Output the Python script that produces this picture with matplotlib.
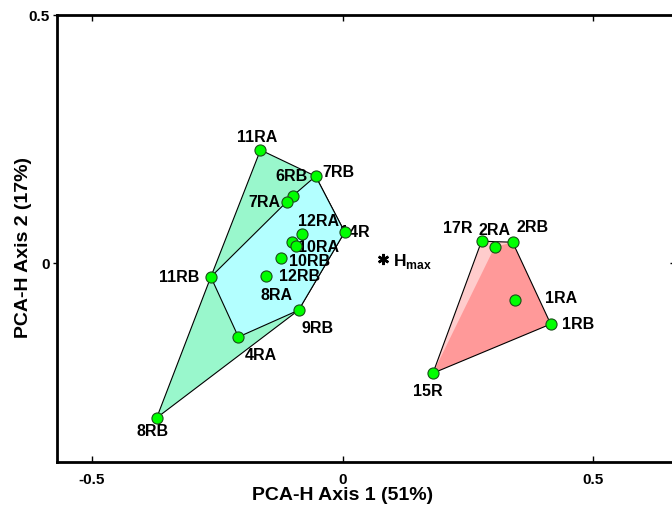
import matplotlib
matplotlib.use("Agg")
import matplotlib.pyplot as plt
from matplotlib.patches import Polygon

plt.rcParams['font.family'] = ['Liberation Sans', 'DejaVu Sans']
plt.rcParams['font.weight'] = 'bold'
plt.rcParams['mathtext.fontset'] = 'custom'
plt.rcParams['mathtext.rm'] = 'Liberation Sans'
plt.rcParams['mathtext.bf'] = 'Liberation Sans:bold'

# left cluster (R*A / R*B samples)
left_names = ["11RA", "7RB", "6RB", "7RA", "14R", "12RA", "8RA", "10RA",
              "10RB", "12RB", "11RB", "9RB", "4RA", "8RB"]
left_x = [-0.164, -0.054, -0.100, -0.112, 0.004, -0.082, -0.102, -0.094,
          -0.124, -0.152, -0.263, -0.088, -0.208, -0.371]
left_y = [0.228, 0.175, 0.135, 0.123, 0.0625, 0.058, 0.042, 0.034,
          0.010, -0.026, -0.028, -0.095, -0.149, -0.312]
# points left out of the inner (cyan) hull
left_outer_only = ["11RA", "8RB"]

# right cluster
right_names = ["17R", "2RA", "2RB", "1RA", "1RB", "15R"]
right_x = [0.277, 0.303, 0.339, 0.343, 0.415, 0.180]
right_y = [0.044, 0.032, 0.042, -0.075, -0.123, -0.222]
right_outer_only = ["17R"]

hmax_x, hmax_y = 0.080, 0.008

# label placement: (dx, dy) in pixels, ha
label_pos = {
    "11RA": (-3, 12, "center"), "7RB": (7, 4, "left"), "6RB": (-1, 20, "center"),
    "7RA": (-6, 0, "right"), "14R": (-5, 0, "left"), "12RA": (-4, 13, "left"),
    "8RA": (-15, -53, "center"), "10RA": (2, -1, "left"), "10RB": (8, -3, "left"),
    "12RB": (13, -1, "left"), "11RB": (-11, -1, "right"), "9RB": (3, -18, "left"),
    "4RA": (6, -19, "left"), "8RB": (-4, -14, "center"),
    "17R": (-9, 13, "right"), "2RA": (0, 17, "center"), "2RB": (4, 15, "left"),
    "1RA": (30, 2, "left"), "1RB": (11, 0, "left"), "15R": (-5, -18, "center"),
}


def hull(pts):
    pts = sorted(set(pts))
    if len(pts) < 3:
        return pts

    def cross(o, a, b):
        return (a[0] - o[0]) * (b[1] - o[1]) - (a[1] - o[1]) * (b[0] - o[0])
    lower, upper = [], []
    for p in pts:
        while len(lower) >= 2 and cross(lower[-2], lower[-1], p) <= 0:
            lower.pop()
        lower.append(p)
    for p in reversed(pts):
        while len(upper) >= 2 and cross(upper[-2], upper[-1], p) <= 0:
            upper.pop()
        upper.append(p)
    return lower[:-1] + upper[:-1]


fig = plt.figure(figsize=(6.72, 5.12), dpi=100)
ax = fig.add_axes([0.0848, 0.0977, 0.921, 0.873])

# left cluster hulls
all_left = list(zip(left_x, left_y))
inner_left = [p for n, p in zip(left_names, all_left) if n not in left_outer_only]
ax.add_patch(Polygon(hull(all_left), closed=True, facecolor="#99F7CC",
                     edgecolor="black", linewidth=0.8, zorder=1))
ax.add_patch(Polygon(hull(inner_left), closed=True, facecolor="#B3FFFF",
                     edgecolor="black", linewidth=0.8, zorder=1.1))

# right cluster hulls
all_right = list(zip(right_x, right_y))
inner_right = [p for n, p in zip(right_names, all_right) if n not in right_outer_only]
ax.add_patch(Polygon(hull(all_right), closed=True, facecolor="#FFCCCC",
                     edgecolor="none", zorder=1))
ax.add_patch(Polygon(hull(inner_right), closed=True, facecolor="#FF9999",
                     edgecolor="none", zorder=1.1))
ax.add_patch(Polygon(hull(all_right), closed=True, fill=False,
                     edgecolor="black", linewidth=0.8, zorder=1.2))

ax.plot(left_x + right_x, left_y + right_y, 'o', color="#00FF00",
        markeredgecolor="#1a4d1a", markeredgewidth=0.8, markersize=8, zorder=4)

for names, xs, ys in [(left_names, left_x, left_y), (right_names, right_x, right_y)]:
    for n, x, y in zip(names, xs, ys):
        dx, dy, ha = label_pos[n]
        ax.annotate(n, (x, y), xytext=(dx, dy), textcoords='offset pixels',
                    ha=ha, va='center', fontsize=11.5, fontweight='bold', zorder=3)

ax.plot([hmax_x], [hmax_y], marker=(6, 2, 0), color="black", markersize=8,
        markeredgewidth=1.8, zorder=4)
ax.annotate("$\\mathbf{H}_{\\mathrm{max}}$", (hmax_x, hmax_y), xytext=(10, -2),
            textcoords='offset pixels', ha='left', va='center', fontsize=12.5)

ax.set_xlim(-0.5699, 0.6647)
ax.set_ylim(-0.401, 0.5)
ax.set_xticks([-0.5, 0, 0.5])
ax.set_xticklabels(["-0.5", "0", "0.5"])
ax.set_yticks([0, 0.5])
ax.set_yticklabels(["0", "0.5"])
for sp in ax.spines.values():
    sp.set_linewidth(2)
ax.tick_params(axis='x', direction='in', top=True, length=4, width=1,
               labelsize=11, pad=8)
ax.tick_params(axis='y', direction='out', length=3, width=1, labelsize=11, pad=2)
sec = ax.secondary_yaxis('right')
sec.set_yticks([0, 0.5])
sec.tick_params(direction='in', length=4, width=1, labelright=False)

ax.set_xlabel("PCA-H Axis 1 (51%)", fontsize=14, fontweight='bold')
ax.xaxis.set_label_coords(0.4616, -0.055)
ax.set_ylabel("PCA-H Axis 2 (17%)", fontsize=14, fontweight='bold')
ax.yaxis.set_label_coords(-0.04, 0.479)

fig.savefig("out.png", dpi=100)
